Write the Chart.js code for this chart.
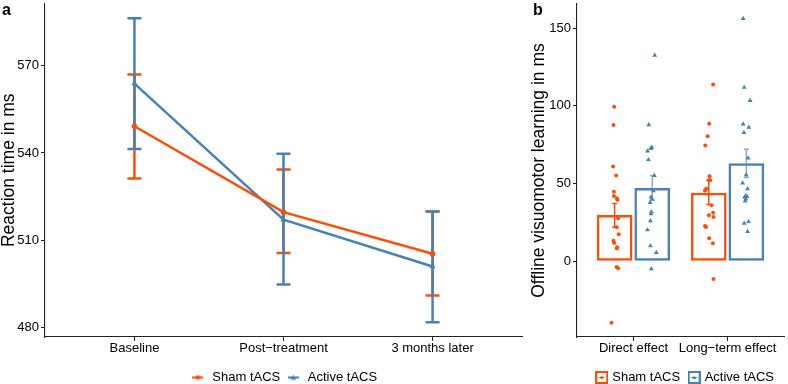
<!DOCTYPE html>
<html><head><meta charset="utf-8">
<script src="https://cdn.jsdelivr.net/npm/chart.js@4/dist/chart.umd.min.js"></script>
<style>
html,body{margin:0;padding:0;background:#fff;overflow:hidden;}
#wrap{position:relative;width:788px;height:384px;overflow:hidden;}
#ca{position:absolute;left:0;top:0;}
#cb{position:absolute;left:527px;top:0;}
</style></head><body>
<div id="wrap"><canvas id="ca" width="527" height="394"></canvas><canvas id="cb" width="261" height="394"></canvas></div>
<script>
// ---------- data: panel a ----------
const timepoints = ['Baseline', 'Post\u2212treatment', '3 months later'];
const groups = ['Sham tACS', 'Active tACS'];
const shamRT      = [549.2, 519.6, 505.3];
const shamRTLow   = [531.2, 505.5, 490.9];
const shamRTHigh  = [567.0, 534.3, 519.8];
const activeRT    = [563.9, 517.0, 500.9];
const activeRTLow = [541.4, 494.7, 481.7];
const activeRTHigh= [586.4, 539.7, 519.8];
const rtTicks = [480, 510, 540, 570];

// ---------- data: panel b ----------
const effects = ['Direct effect', 'Long\u2212term effect'];
const shamMean   = [29.7, 44.1];
const shamLow    = [21.8, 36.4];
const shamHigh   = [37.1, 52.0];
const activeMean = [47.1, 63.0];
const activeLow  = [39.2, 53.9];
const activeHigh = [55.1, 72.1];
const learnTicks = [0, 50, 100, 150];

const shamDirectVals = [99.4, 87.6, 60.9, 55.1, 44.7, 42.0, 39.6, 40.5, 27.6, 21.8, 17.4, 13.1, 11.7, 8.9, 8.1, -3.8, -4.5, -39.6];
const shamDirectJit  = [-0.005, -0.012, -0.016, 0.016, -0.008, -0.008, 0.030, 0.023, 0.037, 0.023, 0.044, -0.012, -0.005, 0.026, 0.023, 0.020, 0.037, -0.033];
const activeDirectVals = [132.5, 87.8, 73.2, 72.5, 70.8, 65.3, 55.1, 45.2, 41.3, 40.0, 37.7, 31.8, 30.5, 25.9, 20.1, 9.8, 5.5, -4.9];
const activeDirectJit  = [0.026, -0.037, -0.005, -0.016, -0.051, -0.041, 0.022, 0.012, -0.013, -0.002, -0.023, -0.009, -0.013, -0.020, -0.051, -0.020, 0.043, -0.009];
const shamLongVals = [113.7, 88.4, 80.4, 74.4, 54.7, 52.0, 52.0, 46.6, 45.4, 36.0, 31.2, 29.5, 28.4, 22.7, 22.0, 14.8, 11.5, -11.5];
const shamLongJit  = [0.047, 0.005, -0.012, -0.037, 0.009, 0.002, 0.016, -0.026, -0.040, 0.030, 0.047, 0.002, 0.051, -0.040, -0.029, 0.005, 0.044, 0.051];
const activeLongVals = [156.1, 111.8, 103.3, 88.2, 86.1, 82.7, 66.4, 55.5, 50.3, 46.6, 42.0, 41.5, 41.1, 39.9, 38.6, 25.4, 24.4, 19.1];
const activeLongJit  = [-0.034, -0.023, 0.040, -0.034, 0.026, -0.026, 0.019, -0.002, -0.040, 0.013, -0.008, 0.008, -0.019, -0.005, -0.013, 0.023, -0.023, 0.013];

// ---------- styles ----------
const RED = '#FC4E07', BLUE = '#4682B4', BLUE_EB = 'rgba(70,130,180,0.65)';
const FONT = "'Liberation Sans', Arial, Helvetica, sans-serif";
Chart.defaults.font.family = FONT;
Chart.defaults.color = '#000';
const DODGE = 0.2;

function makeErrorBars(series, mode, afterIndex) {
  function draw(chart) {
    const {ctx} = chart; const xs = chart.scales.x, ys = chart.scales.y;
    series.forEach(s => {
      ctx.save(); ctx.strokeStyle = s.color; ctx.lineWidth = s.width; ctx.lineCap = 'butt';
      s.x.forEach((xv, i) => {
        const px = xs.getPixelForValue(xv), lo = ys.getPixelForValue(s.low[i]), hi = ys.getPixelForValue(s.high[i]);
        ctx.beginPath();
        ctx.moveTo(px, lo); ctx.lineTo(px, hi);
        ctx.moveTo(px - s.cap / 2, lo); ctx.lineTo(px + s.cap / 2, lo);
        ctx.moveTo(px - s.cap / 2, hi); ctx.lineTo(px + s.cap / 2, hi);
        ctx.stroke();
      });
      ctx.restore();
    });
  }
  return {
    id: 'errorBars' + mode,
    beforeDatasetsDraw(chart) { if (mode === 'before') draw(chart); },
    afterDatasetDraw(chart, args) { if (mode === 'after' && args.index === afterIndex) draw(chart); }
  };
}
function panelLabel(txt, x, y) {
  return { id: 'panelLabel', afterDraw(chart) { const c = chart.ctx; c.save(); c.font = 'bold 16px ' + FONT; c.fillStyle = '#000'; c.textBaseline = 'alphabetic'; c.fillText(txt, x, y); c.restore(); } };
}
function keyLine(color, shape) {
  const c = document.createElement('canvas'); c.width = 11; c.height = 8;
  const g = c.getContext('2d'); g.strokeStyle = color; g.fillStyle = color; g.lineWidth = 2;
  g.beginPath(); g.moveTo(0, 4); g.lineTo(11, 4); g.stroke();
  g.beginPath();
  if (shape === 'circle') g.arc(5.5, 4, 2.3, 0, Math.PI * 2);
  else { g.moveTo(5.5, 1.2); g.lineTo(8.3, 6.2); g.lineTo(2.7, 6.2); g.closePath(); }
  g.fill();
  return c;
}
function keyBox(color, shape) {
  const c = document.createElement('canvas'); c.width = 13; c.height = 13;
  const g = c.getContext('2d'); g.strokeStyle = color; g.fillStyle = color; g.lineWidth = 2;
  g.strokeRect(1, 1, 11, 11);
  g.lineWidth = 1; g.beginPath(); g.moveTo(3.5, 6.5); g.lineTo(9.5, 6.5); g.stroke();
  g.beginPath();
  if (shape === 'circle') g.arc(6.5, 6.5, 1.6, 0, Math.PI * 2);
  else { g.moveTo(6.5, 4.5); g.lineTo(8.5, 8); g.lineTo(4.5, 8); g.closePath(); }
  g.fill();
  return c;
}
const axisGrid = { drawOnChartArea: false, drawTicks: true, tickLength: 4, color: '#222', lineWidth: 1, offset: false };
const axisBorder = { display: true, color: '#222', width: 1.1 };

// ---------- panel a ----------
new Chart(document.getElementById('ca'), {
  type: 'line',
  data: { datasets: [
    { label: groups[0], data: shamRT.map((v, i) => ({x: i + 1, y: v})), borderColor: RED, backgroundColor: RED,
      borderWidth: 2.5, pointStyle: 'circle', pointRadius: 2.8, pointBorderWidth: 0, pointHoverRadius: 2.8 },
    { label: groups[1], data: activeRT.map((v, i) => ({x: i + 1, y: v})), borderColor: BLUE, backgroundColor: BLUE,
      borderWidth: 2.5, pointStyle: 'triangle', pointRadius: 3.5, pointBorderWidth: 0, pointHoverRadius: 3.5 }
  ]},
  options: {
    responsive: false, animation: false, events: [],
    layout: { padding: { left: 0, right: 5, top: 0, bottom: 0 } },
    scales: {
      x: { type: 'linear', min: 0.4, max: 3.6,
        afterBuildTicks: s => { s.ticks = timepoints.map((t, i) => ({value: i + 1})); },
        afterFit: s => { s.height = 29; s.paddingLeft = 0; s.paddingRight = 0; },
        ticks: { callback: v => timepoints[v - 1], font: { size: 13, lineHeight: 1 }, color: '#000', padding: 1, maxRotation: 0, autoSkip: false },
        grid: axisGrid, border: axisBorder },
      y: { type: 'linear', min: 476.6, max: 591.5,
        afterBuildTicks: s => { s.ticks = rtTicks.map(v => ({value: v})); },
        afterFit: s => { s.width = 45; s.paddingTop = 0; s.paddingBottom = 0; },
        ticks: { font: { size: 13 }, color: '#000', padding: 2 },
        title: { display: true, text: 'Reaction time in ms', font: { size: 17.5, lineHeight: 0.73 }, color: '#000', padding: { top: 3, bottom: 0 } },
        grid: axisGrid, border: axisBorder }
    },
    plugins: {
      tooltip: { enabled: false },
      legend: { position: 'bottom', fullSize: false, align: 'center',
        labels: { usePointStyle: true, pointStyleWidth: 16, padding: 5, font: { size: 13 }, color: '#000',
          generateLabels: () => [
            { text: groups[0], pointStyle: keyLine(RED, 'circle'), fillStyle: RED, strokeStyle: RED, lineWidth: 0, hidden: false, datasetIndex: 0 },
            { text: groups[1], pointStyle: keyLine(BLUE, 'triangle'), fillStyle: BLUE, strokeStyle: BLUE, lineWidth: 0, hidden: false, datasetIndex: 1 }
          ] } }
    }
  },
  plugins: [
    makeErrorBars([
      { x: [1, 2, 3], low: shamRTLow, high: shamRTHigh, color: RED, width: 2.5, cap: 14 },
      { x: [1, 2, 3], low: activeRTLow, high: activeRTHigh, color: BLUE, width: 2.5, cap: 14 }
    ], 'before'),
    panelLabel('a', 2, 15)
  ]
});

// ---------- panel b ----------
function pts(vals, jit, cat, side) { return vals.map((v, i) => ({x: cat + side * DODGE + jit[i], y: v})); }
new Chart(document.getElementById('cb'), {
  data: { datasets: [
    { type: 'bar', label: groups[0], data: shamMean.map((v, i) => ({x: i + 1 - DODGE, y: v})), borderColor: RED, backgroundColor: 'rgba(255,255,255,0)',
      borderWidth: 2.5, borderSkipped: false, grouped: false, barPercentage: 0.95, categoryPercentage: 1, order: 2 },
    { type: 'bar', label: groups[1], data: activeMean.map((v, i) => ({x: i + 1 + DODGE, y: v})), borderColor: BLUE, backgroundColor: 'rgba(255,255,255,0)',
      borderWidth: 2.5, borderSkipped: false, grouped: false, barPercentage: 0.95, categoryPercentage: 1, order: 2 },
    { type: 'scatter', label: groups[0], data: pts(shamDirectVals, shamDirectJit, 1, -1).concat(pts(shamLongVals, shamLongJit, 2, -1)),
      backgroundColor: RED, pointStyle: 'circle', pointRadius: 2, pointBorderWidth: 0, order: 1 },
    { type: 'scatter', label: groups[1], data: pts(activeDirectVals, activeDirectJit, 1, 1).concat(pts(activeLongVals, activeLongJit, 2, 1)),
      backgroundColor: BLUE, pointStyle: 'triangle', pointRadius: 2.8, pointBorderWidth: 0, order: 1 }
  ]},
  options: {
    responsive: false, animation: false, events: [],
    layout: { padding: { left: 0, right: 2, top: 0, bottom: 0 } },
    scales: {
      x: { type: 'linear', min: 0.4, max: 2.6, offset: false,
        afterBuildTicks: s => { s.ticks = effects.map((t, i) => ({value: i + 1})); },
        afterFit: s => { s.height = 24; s.paddingLeft = 0; s.paddingRight = 0; },
        ticks: { callback: v => effects[v - 1], font: { size: 13, lineHeight: 1 }, color: '#000', padding: 1, maxRotation: 0, autoSkip: false },
        grid: axisGrid, border: axisBorder },
      y: { type: 'linear', min: -48.8, max: 165.5,
        afterBuildTicks: s => { s.ticks = learnTicks.map(v => ({value: v})); },
        afterFit: s => { s.width = 50; s.paddingTop = 0; s.paddingBottom = 0; },
        ticks: { font: { size: 13 }, color: '#000', padding: 2 },
        title: { display: true, text: 'Offline visuomotor learning in ms', font: { size: 17.5, lineHeight: 0.73 }, color: '#000', padding: { top: 6, bottom: 0 } },
        grid: axisGrid, border: axisBorder }
    },
    plugins: {
      tooltip: { enabled: false },
      legend: { position: 'bottom', fullSize: false, align: 'end',
        labels: { usePointStyle: true, pointStyleWidth: 8, padding: 10, font: { size: 13 }, color: '#000',
          generateLabels: () => [
            { text: groups[0], pointStyle: keyBox(RED, 'circle'), fillStyle: RED, strokeStyle: RED, lineWidth: 0, hidden: false, datasetIndex: 0 },
            { text: groups[1], pointStyle: keyBox(BLUE, 'triangle'), fillStyle: BLUE, strokeStyle: BLUE, lineWidth: 0, hidden: false, datasetIndex: 1 }
          ] } }
    }
  },
  plugins: [
    makeErrorBars([
      { x: [1 - DODGE, 2 - DODGE], low: shamLow, high: shamHigh, color: RED, width: 1.5, cap: 5 },
      { x: [1 + DODGE, 2 + DODGE], low: activeLow, high: activeHigh, color: BLUE_EB, width: 1.5, cap: 5 }
    ], 'after', 0),
    panelLabel('b', 6, 15)
  ]
});
</script>
</body></html>
